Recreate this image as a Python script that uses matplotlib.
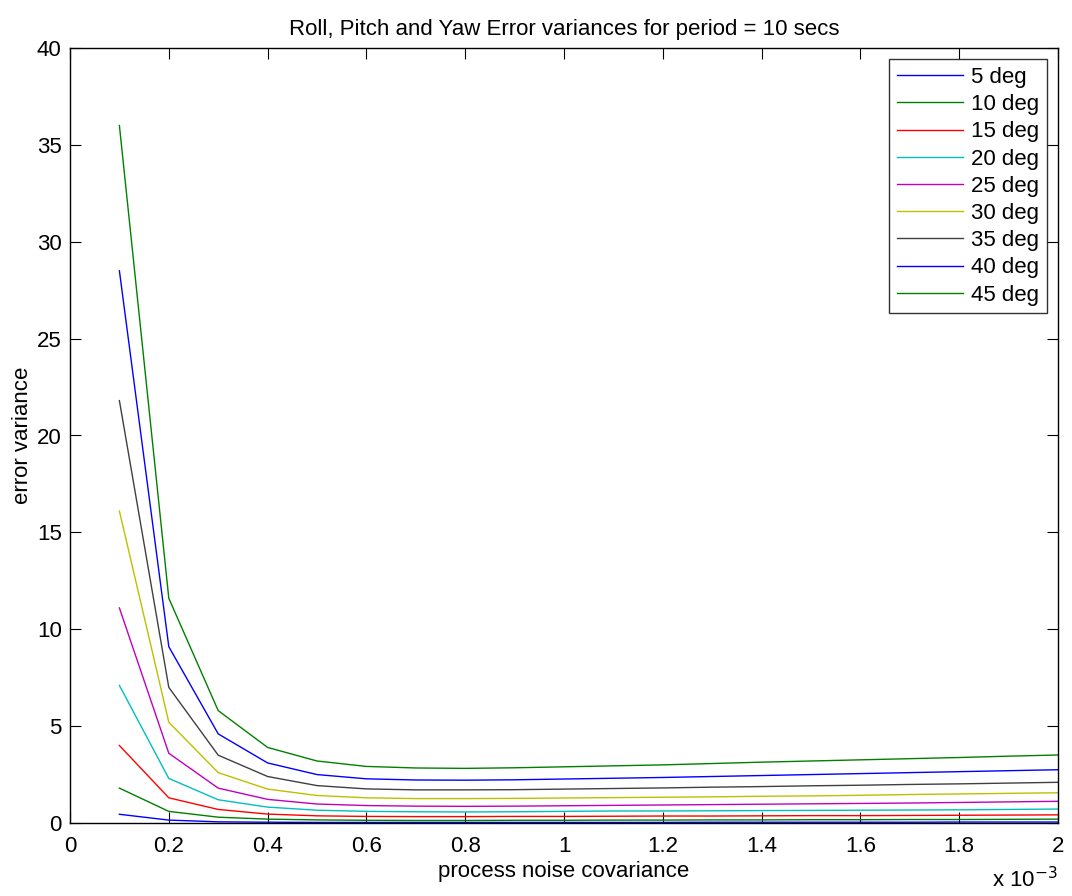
import matplotlib
matplotlib.use("Agg")
import matplotlib.pyplot as plt
import numpy as np
from matplotlib.ticker import FuncFormatter

plt.rcParams['font.family'] = ['Liberation Sans', 'DejaVu Sans']

noise_cov = [0.1e-3, 0.2e-3, 0.3e-3, 0.4e-3, 0.5e-3, 0.6e-3, 0.7e-3, 0.8e-3, 0.9e-3, 1.0e-3,
             1.1e-3, 1.2e-3, 1.3e-3, 1.4e-3, 1.5e-3, 1.6e-3, 1.7e-3, 1.8e-3, 1.9e-3, 2.0e-3]

labels = ['5 deg', '10 deg', '15 deg', '20 deg', '25 deg', '30 deg', '35 deg', '40 deg', '45 deg']

var_5 = [0.45, 0.15, 0.06, 0.04, 0.03, 0.03, 0.03, 0.03, 0.03, 0.03,
         0.03, 0.03, 0.04, 0.04, 0.04, 0.04, 0.04, 0.05, 0.05, 0.05]
var_10 = [1.8, 0.6, 0.3, 0.2, 0.16, 0.14, 0.13, 0.13, 0.14, 0.14,
          0.15, 0.15, 0.16, 0.16, 0.17, 0.17, 0.18, 0.18, 0.19, 0.2]
var_15 = [4.0, 1.3, 0.7, 0.46, 0.37, 0.34, 0.33, 0.33, 0.34, 0.34,
          0.35, 0.36, 0.36, 0.37, 0.38, 0.38, 0.39, 0.4, 0.41, 0.42]
var_20 = [7.1, 2.3, 1.2, 0.82, 0.66, 0.6, 0.58, 0.57, 0.58, 0.6,
          0.62, 0.62, 0.63, 0.64, 0.65, 0.66, 0.67, 0.68, 0.7, 0.72]
var_25 = [11.1, 3.6, 1.8, 1.22, 0.98, 0.9, 0.87, 0.86, 0.87, 0.89,
          0.91, 0.93, 0.95, 0.97, 0.99, 1.01, 1.03, 1.06, 1.09, 1.12]
var_30 = [16.1, 5.2, 2.6, 1.75, 1.42, 1.3, 1.26, 1.26, 1.27, 1.29,
          1.31, 1.33, 1.35, 1.38, 1.4, 1.43, 1.47, 1.5, 1.53, 1.56]
var_35 = [21.8, 7.0, 3.5, 2.4, 1.93, 1.76, 1.71, 1.71, 1.72, 1.75,
          1.78, 1.81, 1.85, 1.88, 1.92, 1.95, 1.99, 2.02, 2.06, 2.1]
var_40 = [28.5, 9.1, 4.6, 3.1, 2.5, 2.28, 2.22, 2.21, 2.23, 2.27,
          2.31, 2.35, 2.4, 2.45, 2.5, 2.55, 2.6, 2.65, 2.7, 2.75]
var_45 = [36.0, 11.6, 5.8, 3.9, 3.2, 2.92, 2.84, 2.82, 2.85, 2.9,
          2.95, 3.0, 3.07, 3.14, 3.2, 3.26, 3.32, 3.38, 3.45, 3.51]

series = [var_5, var_10, var_15, var_20, var_25, var_30, var_35, var_40, var_45]
colors = [(0, 0, 1), (0, 0.5, 0), (1, 0, 0), (0, 0.75, 0.75), (0.75, 0, 0.75),
          (0.75, 0.75, 0), (0.25, 0.25, 0.25), (0, 0, 1), (0, 0.5, 0)]

FS = 16

fig = plt.figure(figsize=(10.72, 8.96), dpi=100)
ax = fig.add_axes([70/1072, 73/896, 988/1072, 775/896])

for vals, lab, c in zip(series, labels, colors):
    ax.plot(noise_cov, vals, color=c, lw=1.0, label=lab)

ax.set_xlim(0, 2e-3)
ax.set_ylim(0, 40)
ax.set_xticks(np.arange(0, 2.0001e-3, 0.2e-3))
ax.set_yticks(np.arange(0, 41, 5))
ax.xaxis.set_major_formatter(FuncFormatter(lambda v, p: ('%g' % round(v * 1e3, 6))))
ax.tick_params(direction='in', top=True, right=True, labelsize=FS, length=8, width=0.8)
ax.tick_params(axis='x', pad=9)
ax.tick_params(axis='y', pad=6)
for s in ax.spines.values():
    s.set_linewidth(1.0)

ax.set_title('Roll, Pitch and Yaw Error variances for period = 10 secs', fontsize=FS, pad=9)
ax.set_xlabel('process noise covariance', fontsize=FS, labelpad=3)
ax.set_ylabel('error variance', fontsize=FS, labelpad=3)
ax.text(1.0, -0.083, r'x 10$^{-3}$', transform=ax.transAxes, ha='right', va='baseline', fontsize=FS)

leg = ax.legend(loc='upper right', fontsize=FS, frameon=True, fancybox=False,
                edgecolor='black', borderaxespad=0.5, handlelength=3.0,
                labelspacing=0.28, borderpad=0.35, handletextpad=0.35)
leg.get_frame().set_linewidth(1.0)

fig.savefig('out.png', dpi=100)
